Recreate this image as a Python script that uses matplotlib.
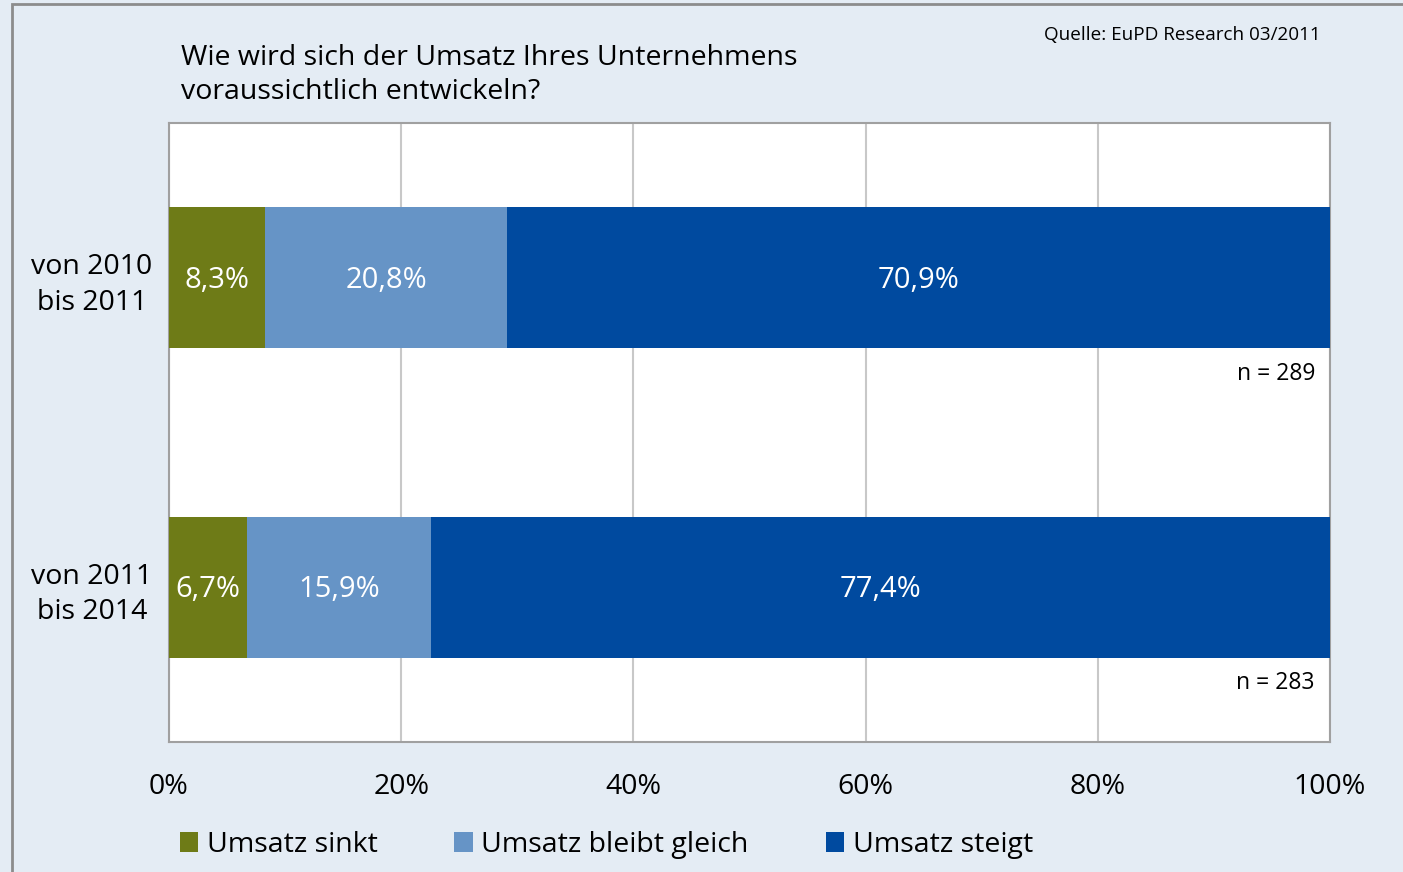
import numpy as np
import matplotlib.pyplot as plt
from matplotlib.patches import Rectangle

plt.rcParams['font.family'] = ['Open Sans', 'DejaVu Sans']

# Daten
zeitraeume = ['von 2010\nbis 2011', 'von 2011\nbis 2014']
kategorien = ['Umsatz sinkt', 'Umsatz bleibt gleich', 'Umsatz steigt']
sinkt = [8.3, 6.7]
gleich = [20.8, 15.9]
steigt = [70.9, 77.4]
n_werte = [289, 283]

farben = ['#6e7b17', '#6694c6', '#004a9f']
hintergrund = '#e4ecf4'

fig = plt.figure(figsize=(14.03, 8.72), dpi=100)
fig.patch.set_facecolor(hintergrund)

# grauer Rahmen links/oben
fig.patches.append(Rectangle((12 / 1403, -0.1), 1.2, 1 - 4 / 872 + 0.1,
                             transform=fig.transFigure, fill=False,
                             edgecolor='#8c8c8c', linewidth=2))

ax = fig.add_axes([169 / 1403, 1 - 742 / 872, 1161 / 1403, 619 / 872])
ax.set_facecolor('white')

y = np.arange(len(zeitraeume))
hoehe = 0.456
links = np.zeros(len(y))
for werte, farbe, name in zip([sinkt, gleich, steigt], farben, kategorien):
    balken = ax.barh(y, werte, left=links, height=hoehe, color=farbe, label=name, zorder=3)
    for b, w in zip(balken, werte):
        ax.text(b.get_x() + b.get_width() / 2, b.get_y() + b.get_height() / 2 + 0.008,
                f'{w:.1f}%'.replace('.', ','), ha='center', va='center',
                color='white', fontsize=21, zorder=4)
    links += np.array(werte)

for yi, n in zip(y, n_werte):
    ax.text(98.7, yi + 0.31, f'n = {n}', ha='right', va='center', fontsize=16.5, zorder=4)

ax.set_xlim(0, 100)
ax.set_ylim(1.5, -0.5)
ax.set_xticks(np.arange(0, 101, 20))
ax.set_xticklabels([f'{v}%' for v in range(0, 101, 20)], fontsize=20.5)
ax.set_yticks(y)
ax.set_yticklabels(zeitraeume, fontsize=20.5, multialignment='center', linespacing=1.35)
ax.tick_params(axis='both', length=0)
ax.tick_params(axis='x', pad=22)
ax.tick_params(axis='y', pad=12)
ax.grid(axis='x', color='#c8c8c8', linewidth=1.5, zorder=0)
for s in ax.spines.values():
    s.set_color('#a0a0a0')
    s.set_linewidth(1.5)

fig.text(181 / 1403, 1 - 75 / 872, 'Wie wird sich der Umsatz Ihres Unternehmens\nvoraussichtlich entwickeln?',
         ha='left', va='center', fontsize=20.5, linespacing=1.3)
fig.text(1321 / 1403, 1 - 35 / 872, 'Quelle: EuPD Research 03/2011', ha='right', va='center', fontsize=13.6)

fig.legend(loc='center left', bbox_to_anchor=(154 / 1403, 1 - 845 / 872), ncol=3, frameon=False,
           fontsize=20.5, handlelength=0.65, handleheight=0.65, handletextpad=0.3, columnspacing=2.7)

fig.savefig('out.png', dpi=100, facecolor=fig.get_facecolor())
